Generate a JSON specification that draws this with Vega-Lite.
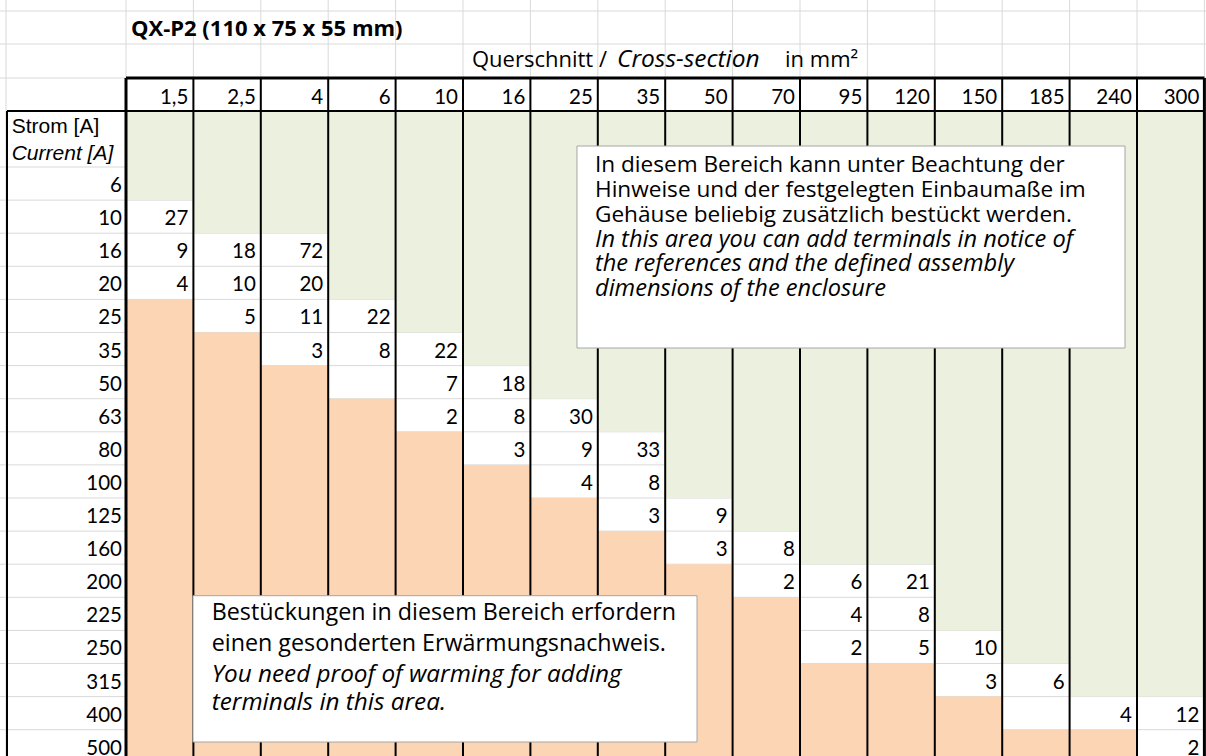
{
  "$schema": "https://vega.github.io/schema/vega-lite/v6.json",
  "width": 1206,
  "height": 756,
  "autosize": "none",
  "padding": 0,
  "background": "white",
  "config": {"view": {"stroke": null}, "text": {"font": "Lato", "color": "black"}},
  "data": {"values": [{"note": "annotation"}]},
  "datasets": {
    "sections": [
      {"s": "1,5", "ci": 0, "free": 1, "warm": 4},
      {"s": "2,5", "ci": 1, "free": 2, "warm": 5},
      {"s": "4", "ci": 2, "free": 2, "warm": 6},
      {"s": "6", "ci": 3, "free": 4, "warm": 7},
      {"s": "10", "ci": 4, "free": 5, "warm": 8},
      {"s": "16", "ci": 5, "free": 6, "warm": 9},
      {"s": "25", "ci": 6, "free": 7, "warm": 10},
      {"s": "35", "ci": 7, "free": 8, "warm": 11},
      {"s": "50", "ci": 8, "free": 10, "warm": 12},
      {"s": "70", "ci": 9, "free": 11, "warm": 13},
      {"s": "95", "ci": 10, "free": 12, "warm": 15},
      {"s": "120", "ci": 11, "free": 12, "warm": 15},
      {"s": "150", "ci": 12, "free": 14, "warm": 16},
      {"s": "185", "ci": 13, "free": 15, "warm": 17},
      {"s": "240", "ci": 14, "free": 16, "warm": 17},
      {"s": "300", "ci": 15, "free": 16, "warm": null}
    ],
    "currents": [
      {"a": 6, "ri": 0}, {"a": 10, "ri": 1}, {"a": 16, "ri": 2}, {"a": 20, "ri": 3},
      {"a": 25, "ri": 4}, {"a": 35, "ri": 5}, {"a": 50, "ri": 6}, {"a": 63, "ri": 7},
      {"a": 80, "ri": 8}, {"a": 100, "ri": 9}, {"a": 125, "ri": 10}, {"a": 160, "ri": 11},
      {"a": 200, "ri": 12}, {"a": 225, "ri": 13}, {"a": 250, "ri": 14}, {"a": 315, "ri": 15},
      {"a": 400, "ri": 16}, {"a": 500, "ri": 17}
    ],
    "cells": [
      {"s": "1,5", "ci": 0, "a": 10, "ri": 1, "n": 27},
      {"s": "1,5", "ci": 0, "a": 16, "ri": 2, "n": 9},
      {"s": "1,5", "ci": 0, "a": 20, "ri": 3, "n": 4},
      {"s": "2,5", "ci": 1, "a": 16, "ri": 2, "n": 18},
      {"s": "2,5", "ci": 1, "a": 20, "ri": 3, "n": 10},
      {"s": "2,5", "ci": 1, "a": 25, "ri": 4, "n": 5},
      {"s": "4", "ci": 2, "a": 16, "ri": 2, "n": 72},
      {"s": "4", "ci": 2, "a": 20, "ri": 3, "n": 20},
      {"s": "4", "ci": 2, "a": 25, "ri": 4, "n": 11},
      {"s": "4", "ci": 2, "a": 35, "ri": 5, "n": 3},
      {"s": "6", "ci": 3, "a": 25, "ri": 4, "n": 22},
      {"s": "6", "ci": 3, "a": 35, "ri": 5, "n": 8},
      {"s": "10", "ci": 4, "a": 35, "ri": 5, "n": 22},
      {"s": "10", "ci": 4, "a": 50, "ri": 6, "n": 7},
      {"s": "10", "ci": 4, "a": 63, "ri": 7, "n": 2},
      {"s": "16", "ci": 5, "a": 50, "ri": 6, "n": 18},
      {"s": "16", "ci": 5, "a": 63, "ri": 7, "n": 8},
      {"s": "16", "ci": 5, "a": 80, "ri": 8, "n": 3},
      {"s": "25", "ci": 6, "a": 63, "ri": 7, "n": 30},
      {"s": "25", "ci": 6, "a": 80, "ri": 8, "n": 9},
      {"s": "25", "ci": 6, "a": 100, "ri": 9, "n": 4},
      {"s": "35", "ci": 7, "a": 80, "ri": 8, "n": 33},
      {"s": "35", "ci": 7, "a": 100, "ri": 9, "n": 8},
      {"s": "35", "ci": 7, "a": 125, "ri": 10, "n": 3},
      {"s": "50", "ci": 8, "a": 125, "ri": 10, "n": 9},
      {"s": "50", "ci": 8, "a": 160, "ri": 11, "n": 3},
      {"s": "70", "ci": 9, "a": 160, "ri": 11, "n": 8},
      {"s": "70", "ci": 9, "a": 200, "ri": 12, "n": 2},
      {"s": "95", "ci": 10, "a": 200, "ri": 12, "n": 6},
      {"s": "95", "ci": 10, "a": 225, "ri": 13, "n": 4},
      {"s": "95", "ci": 10, "a": 250, "ri": 14, "n": 2},
      {"s": "120", "ci": 11, "a": 200, "ri": 12, "n": 21},
      {"s": "120", "ci": 11, "a": 225, "ri": 13, "n": 8},
      {"s": "120", "ci": 11, "a": 250, "ri": 14, "n": 5},
      {"s": "150", "ci": 12, "a": 250, "ri": 14, "n": 10},
      {"s": "150", "ci": 12, "a": 315, "ri": 15, "n": 3},
      {"s": "185", "ci": 13, "a": 315, "ri": 15, "n": 6},
      {"s": "240", "ci": 14, "a": 400, "ri": 16, "n": 4},
      {"s": "300", "ci": 15, "a": 400, "ri": 16, "n": 12},
      {"s": "300", "ci": 15, "a": 500, "ri": 17, "n": 2}
    ]
  },
  "layer": [
    {
      "data": {"name": "sections"},
      "mark": {"type": "rule", "color": "#d9d9d9", "strokeWidth": 1},
      "encoding": {
        "x": {"field": "ci", "type": "quantitative", "axis": null, "scale": {"domain": [-1.86944, 16.02374], "nice": false, "zero": false}},
        "y": {"datum": -5.04532, "type": "quantitative", "axis": null, "scale": {"domain": [-5.04532, 17.79456], "nice": false, "zero": false, "reverse": true}},
        "y2": {"datum": 17.79456}
      }
    },
    {
      "mark": {"type": "rule", "color": "#d9d9d9", "strokeWidth": 1},
      "encoding": {"x": {"datum": 16, "type": "quantitative"}, "y": {"datum": -5.04532, "type": "quantitative"}, "y2": {"datum": 17.79456}}
    },
    {
      "mark": {"type": "rule", "color": "#d9d9d9", "strokeWidth": 1},
      "encoding": {"x": {"datum": -1.78042, "type": "quantitative"}, "y": {"datum": -5.04532, "type": "quantitative"}, "y2": {"datum": 17.79456}}
    },
    {
      "data": {"name": "currents"},
      "mark": {"type": "rule", "color": "#d9d9d9", "strokeWidth": 1},
      "encoding": {"y": {"field": "ri", "type": "quantitative"}, "x": {"datum": -1.86944, "type": "quantitative"}, "x2": {"datum": 16.02374}}
    },
    {
      "mark": {"type": "rule", "color": "#d9d9d9", "strokeWidth": 1},
      "encoding": {"y": {"datum": -4.71299, "type": "quantitative"}, "x": {"datum": -1.86944, "type": "quantitative"}, "x2": {"datum": 16.02374}}
    },
    {
      "mark": {"type": "rule", "color": "#d9d9d9", "strokeWidth": 1},
      "encoding": {"y": {"datum": -3.71601, "type": "quantitative"}, "x": {"datum": -1.86944, "type": "quantitative"}, "x2": {"datum": 16.02374}}
    },
    {
      "mark": {"type": "rule", "color": "#d9d9d9", "strokeWidth": 1},
      "encoding": {"y": {"datum": -2.68882, "type": "quantitative"}, "x": {"datum": -1.86944, "type": "quantitative"}, "x2": {"datum": 16.02374}}
    },
    {
      "data": {"name": "sections"},
      "transform": [{"calculate": "datum.ci + 1", "as": "ci1"}],
      "mark": {"type": "rect", "color": "#EBF1DE"},
      "encoding": {
        "x": {"field": "ci", "type": "quantitative"},
        "x2": {"field": "ci1"},
        "y": {"field": "free", "type": "quantitative"},
        "y2": {"datum": -1.69184}
      }
    },
    {
      "data": {"name": "sections"},
      "transform": [{"filter": "datum.warm != null"}, {"calculate": "datum.ci + 1", "as": "ci1"}],
      "mark": {"type": "rect", "color": "#FCD5B4"},
      "encoding": {
        "x": {"field": "ci", "type": "quantitative"},
        "x2": {"field": "ci1"},
        "y": {"field": "warm", "type": "quantitative"},
        "y2": {"datum": 17.79456}
      }
    },
    {
      "data": {"name": "sections"},
      "transform": [{"filter": "datum.ci > 0"}],
      "mark": {"type": "rule", "color": "black", "strokeWidth": 2},
      "encoding": {"x": {"field": "ci", "type": "quantitative"}, "y": {"datum": -2.68882, "type": "quantitative"}, "y2": {"datum": 17.79456}}
    },
    {
      "mark": {"type": "rule", "color": "black", "strokeWidth": 3},
      "encoding": {"x": {"datum": 0, "type": "quantitative"}, "y": {"datum": -2.68882, "type": "quantitative"}, "y2": {"datum": 17.79456}}
    },
    {
      "mark": {"type": "rule", "color": "black", "strokeWidth": 3},
      "encoding": {"x": {"datum": 16, "type": "quantitative"}, "y": {"datum": -2.68882, "type": "quantitative"}, "y2": {"datum": 17.79456}}
    },
    {
      "mark": {"type": "rule", "color": "black", "strokeWidth": 2},
      "encoding": {"x": {"datum": -1.76558, "type": "quantitative"}, "y": {"datum": -1.69184, "type": "quantitative"}, "y2": {"datum": 17.79456}}
    },
    {
      "mark": {"type": "rule", "color": "black", "strokeWidth": 3},
      "encoding": {"y": {"datum": -2.68882, "type": "quantitative"}, "x": {"datum": 0, "type": "quantitative"}, "x2": {"datum": 16}}
    },
    {
      "mark": {"type": "rule", "color": "black", "strokeWidth": 2},
      "encoding": {"y": {"datum": -1.69184, "type": "quantitative"}, "x": {"datum": -1.76558, "type": "quantitative"}, "x2": {"datum": 16}}
    },
    {
      "data": {"name": "sections"},
      "mark": {"type": "text", "align": "right", "baseline": "alphabetic", "fontSize": 20.5, "dx": 62.4, "dy": -7},
      "encoding": {"x": {"field": "ci", "type": "quantitative"}, "y": {"datum": -1.69184, "type": "quantitative"}, "text": {"field": "s"}}
    },
    {
      "data": {"name": "currents"},
      "mark": {"type": "text", "align": "right", "baseline": "alphabetic", "fontSize": 20.5, "dx": -4, "dy": 25},
      "encoding": {"x": {"datum": 0, "type": "quantitative"}, "y": {"field": "ri", "type": "quantitative"}, "text": {"field": "a"}}
    },
    {
      "data": {"name": "cells"},
      "mark": {"type": "text", "align": "right", "baseline": "alphabetic", "fontSize": 20.5, "dx": 62.4, "dy": 25},
      "encoding": {"x": {"field": "ci", "type": "quantitative"}, "y": {"field": "ri", "type": "quantitative"}, "text": {"field": "n"}}
    },
    {
      "mark": {"type": "text", "align": "left", "baseline": "alphabetic", "fontSize": 22, "fontWeight": "bold", "font": "Open Sans"},
      "encoding": {"x": {"datum": 0.07418, "type": "quantitative"}, "y": {"datum": -3.9577, "type": "quantitative"}, "text": {"value": "QX-P2 (110 x 75 x 55 mm)"}}
    },
    {
      "mark": {"type": "text", "align": "left", "baseline": "alphabetic", "fontSize": 22, "font": "Open Sans"},
      "encoding": {"x": {"datum": 5.13353, "type": "quantitative"}, "y": {"datum": -3.03021, "type": "quantitative"}, "text": {"value": "Querschnitt /"}}
    },
    {
      "mark": {"type": "text", "align": "left", "baseline": "alphabetic", "fontSize": 24.5, "fontStyle": "italic", "font": "Open Sans"},
      "encoding": {"x": {"datum": 7.28487, "type": "quantitative"}, "y": {"datum": -3.03021, "type": "quantitative"}, "text": {"value": "Cross-section"}}
    },
    {
      "mark": {"type": "text", "align": "left", "baseline": "alphabetic", "fontSize": 22, "font": "Open Sans"},
      "encoding": {"x": {"datum": 9.77745, "type": "quantitative"}, "y": {"datum": -3.03021, "type": "quantitative"}, "text": {"value": "in mm²"}}
    },
    {
      "mark": {"type": "text", "align": "left", "baseline": "alphabetic", "fontSize": 21, "font": "Liberation Sans"},
      "encoding": {"x": {"datum": -1.69585, "type": "quantitative"}, "y": {"datum": -1.01813, "type": "quantitative"}, "text": {"value": "Strom [A]"}}
    },
    {
      "mark": {"type": "text", "align": "left", "baseline": "alphabetic", "fontSize": 21, "font": "Liberation Sans", "fontStyle": "italic"},
      "encoding": {"x": {"datum": -1.69585, "type": "quantitative"}, "y": {"datum": -0.21148, "type": "quantitative"}, "text": {"value": "Current [A]"}}
    },
    {
      "mark": {"type": "rect", "fill": "white", "stroke": "#a6a6a6", "strokeWidth": 1},
      "encoding": {"x": {"datum": 6.69139, "type": "quantitative"}, "x2": {"datum": 14.82196}, "y": {"datum": -0.63444, "type": "quantitative"}, "y2": {"datum": 5.46828}}
    },
    {
      "mark": {"type": "rect", "fill": "white", "stroke": "#a6a6a6", "strokeWidth": 1},
      "encoding": {"x": {"datum": 0.99407, "type": "quantitative"}, "x2": {"datum": 8.47181}, "y": {"datum": 12.95166, "type": "quantitative"}, "y2": {"datum": 17.3716}}
    },
    {
      "mark": {"type": "text", "align": "left", "baseline": "alphabetic", "fontSize": 22.6, "lineHeight": 25, "font": "Open Sans"},
      "encoding": {"x": {"datum": 6.95846, "type": "quantitative"}, "y": {"datum": 0.14199, "type": "quantitative"}, "text": {"value": ["In diesem Bereich kann unter Beachtung der", "Hinweise und der festgelegten Einbaumaße im", "Gehäuse beliebig zusätzlich bestückt werden."]}}
    },
    {
      "mark": {"type": "text", "align": "left", "baseline": "alphabetic", "fontSize": 23.6, "lineHeight": 24.5, "fontStyle": "italic", "font": "Open Sans"},
      "encoding": {"x": {"datum": 6.95846, "type": "quantitative"}, "y": {"datum": 2.40785, "type": "quantitative"}, "text": {"value": ["In this area you can add terminals in notice of", "the references  and the defined assembly", "dimensions of the enclosure"]}}
    },
    {
      "mark": {"type": "text", "align": "left", "baseline": "alphabetic", "fontSize": 23.3, "lineHeight": 30.7, "font": "Open Sans"},
      "encoding": {"x": {"datum": 1.27151, "type": "quantitative"}, "y": {"datum": 13.6858, "type": "quantitative"}, "text": {"value": ["Bestückungen in diesem Bereich erfordern", "einen gesonderten Erwärmungsnachweis."]}}
    },
    {
      "mark": {"type": "text", "align": "left", "baseline": "alphabetic", "fontSize": 24.3, "lineHeight": 28.8, "fontStyle": "italic", "font": "Open Sans"},
      "encoding": {"x": {"datum": 1.27151, "type": "quantitative"}, "y": {"datum": 15.54985, "type": "quantitative"}, "text": {"value": ["You need proof of warming for adding", "terminals in this area."]}}
    }
  ]
}
